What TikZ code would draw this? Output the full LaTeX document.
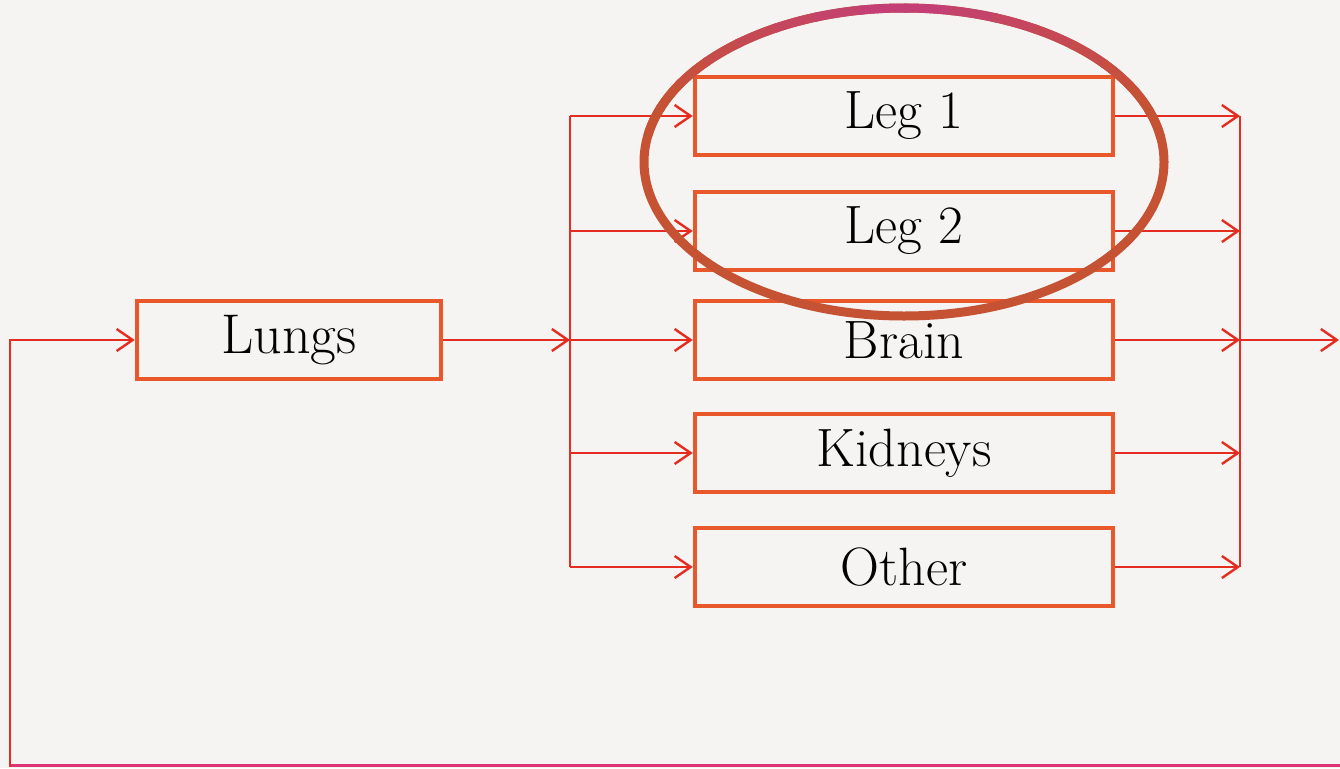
\documentclass[tikz,border=0pt]{standalone}
\usetikzlibrary{arrows.meta,calc}
\definecolor{paper}{RGB}{245,244,242}
\definecolor{boxc}{RGB}{232,88,42}
\definecolor{connc}{RGB}{228,45,32}
\definecolor{fbc}{RGB}{222,52,115}
\definecolor{ellC}{RGB}{198,82,52}
\definecolor{ellM}{RGB}{196,62,122}
\tikzset{
  organ/.style={draw=boxc, line width=4.5pt, minimum width=418pt, minimum height=78pt,
    inner sep=0pt, font=\fontsize{54}{62}\selectfont, text=black},
  lungbox/.style={organ, minimum width=304pt, font=\fontsize{56}{64}\selectfont},
  conn/.style={draw=connc, line width=2.4pt},
  tip/.style={-{Straight Barb[length=16pt,width=22pt,line width=2.4pt]}},
  fb/.style={draw=fbc, line width=3pt},
  ring/.style={line width=9pt, line cap=butt}
}
\begin{document}
\begin{tikzpicture}[x=1pt,y=-1pt]
\fill[paper] (0,0) rectangle (1340,768);
\useasboundingbox (0,0) rectangle (1340,768);
% nodes
\node[lungbox] (lungs) at (289,340) {Lungs};
\node[organ] (leg1) at (904,116) {Leg 1};
\node[organ] (leg2) at (904,231) {Leg 2};
\node[organ] (brain) at (904,340) {Brain};
\node[organ] (kid) at (904,453) {Kidneys};
\node[organ] (oth) at (904,567) {Other};
% buses
\coordinate (busL) at (570,340);
\coordinate (busR) at (1240,340);
\coordinate (outR) at (1339,340);
\coordinate (fbTR) at (1360,765);
\coordinate (fbBL) at (10,765);
% left distribution
\draw[conn,tip] (lungs.east) -- (busL);
\draw[conn] (busL |- leg1) -- (busL |- oth);
\foreach \n in {leg1,leg2,brain,kid,oth}{
  \draw[conn,tip] (busL |- \n) -- (\n.west);
  \draw[conn,tip] (\n.east) -- (busR |- \n);
}
% right collection
\draw[conn] (busR |- leg1) -- (busR |- oth);
\draw[conn,tip] (busR) -- (outR);
% feedback
\draw[fb] (fbTR) -- (fbBL);
\draw[conn,tip] ($(fbBL)+(0,2)$) -- (fbBL |- lungs) -- (lungs.west);
% ellipse highlight
\coordinate (ec) at (904,162);
\draw[ring, ellC] (ec) ellipse[x radius=260, y radius=154];
\foreach \a in {190,200,...,340}{
  \pgfmathtruncatemacro\p{max(0,100-abs(\a+5-270)*1.5)}
  \draw[ring, color=ellM!\p!ellC] (ec) ++(\a:260 and 154)
     arc[start angle=\a, end angle=\a+11, x radius=260, y radius=154];
}
\end{tikzpicture}
\end{document}
